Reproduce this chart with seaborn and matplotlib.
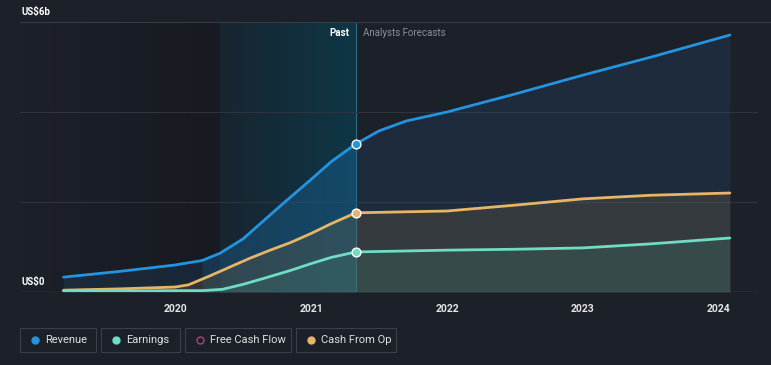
import numpy as np
import pandas as pd
import matplotlib.pyplot as plt
from matplotlib.colors import LinearSegmentedColormap
import seaborn as sns

# values (US$ billions)
rev_x = [2019.18, 2019.6, 2020.0, 2020.2, 2020.33, 2020.5, 2020.65, 2020.8, 2021.0, 2021.15, 2021.33,
         2021.5, 2021.7, 2022.0, 2022.5, 2023.0, 2023.5, 2024.08]
rev_y = [0.33, 0.46, 0.6, 0.7, 0.86, 1.18, 1.58, 1.98, 2.5, 2.9, 3.29,
         3.58, 3.8, 4.0, 4.4, 4.82, 5.22, 5.71]
earn_x = [2019.18, 2019.6, 2020.0, 2020.2, 2020.35, 2020.5, 2020.65, 2020.85, 2021.0, 2021.15, 2021.33,
          2022.0, 2022.5, 2023.0, 2023.5, 2024.08]
earn_y = [0.02, 0.02, 0.03, 0.03, 0.06, 0.17, 0.3, 0.48, 0.63, 0.77, 0.89,
          0.93, 0.95, 0.98, 1.07, 1.2]
cfo_x = [2019.18, 2019.6, 2020.0, 2020.1, 2020.25, 2020.4, 2020.55, 2020.7, 2020.85, 2021.0, 2021.15, 2021.33,
         2022.0, 2022.5, 2023.0, 2023.5, 2024.08]
cfo_y = [0.04, 0.07, 0.11, 0.16, 0.35, 0.55, 0.75, 0.93, 1.1, 1.3, 1.52, 1.76,
         1.8, 1.93, 2.07, 2.15, 2.2]
years = [2020, 2021, 2022, 2023, 2024]
past_end = 2021.33
past_start = 2020.33

bg = "#1c2029"
c_rev = "#2394df"
c_earn = "#6fdcc4"
c_cfo = "#e6b567"
c_fcf = "#b0417a"

sns.set_style("dark")
plt.rcParams["font.family"] = ["Roboto", "DejaVu Sans"]

fig = plt.figure(figsize=(7.71, 3.65), dpi=100, facecolor=bg)
ax = fig.add_axes([20 / 771, 1 - 292 / 365, 738 / 771, 270 / 365])
ax.set_facecolor(bg)
ax.set_xlim(2018.86, 2024.287)
ax.set_ylim(0, 6)

# horizontal gradients: dark left zone and teal past zone
hgrad = np.linspace(0, 1, 200).reshape(1, -1)
ax.imshow(hgrad, extent=[2018.86, past_start, 0, 6], aspect="auto", zorder=0.4,
          cmap=LinearSegmentedColormap.from_list("l", [bg, "#171a21"]))
ax.imshow(hgrad, extent=[past_start, past_end, 0, 6], aspect="auto", zorder=0.5,
          cmap=LinearSegmentedColormap.from_list("p", ["#172530", "#0f3646"]))
ax.axvline(past_end, color="#2b6a80", lw=0.8, zorder=1)

for yv in [2, 4]:
    ax.axhline(yv, color="#2e333d", lw=0.8, zorder=1)
ax.plot([2018.86, 2024.5], [6, 6], color="#363b45", lw=0.8, clip_on=False, zorder=1)
ax.axhline(0, color="#4a4f58", lw=1, zorder=2)

df_rev = pd.DataFrame({"x": rev_x, "y": rev_y})
df_earn = pd.DataFrame({"x": earn_x, "y": earn_y})
df_cfo = pd.DataFrame({"x": cfo_x, "y": cfo_y})

rx = np.array(rev_x)
ax.fill_between(rev_x, rev_y, color="#2a6fb0", alpha=0.15, lw=0, zorder=2)
ax.fill_between(rev_x, rev_y, where=(rx >= past_start - 0.2) & (rx <= past_end), interpolate=False,
                color="#1a80c0", alpha=0.18, lw=0, zorder=2.05)
ax.fill_between(cfo_x, cfo_y, color="#7d6741", alpha=0.25, lw=0, zorder=2.1)
ax.fill_between(earn_x, earn_y, color="#3d7a6e", alpha=0.25, lw=0, zorder=2.2)

for d, c in [(df_rev, c_rev), (df_cfo, c_cfo), (df_earn, c_earn)]:
    sns.lineplot(data=d, x="x", y="y", color=c, lw=2, ax=ax, zorder=3)
    yp = np.interp(past_end, d["x"], d["y"])
    ax.scatter([past_end], [yp], s=40, color=c, edgecolor="white", lw=1, zorder=4)

ax.set_xlabel("")
ax.set_ylabel("")
ax.set_xticks(years)
ax.set_xticklabels([str(y) for y in years], color="#e6e6e6", fontsize=7.5, fontweight="bold")
ax.tick_params(axis="x", length=3, color="#4a4f58", pad=6)
ax.set_yticks([])
for s in ax.spines.values():
    s.set_visible(False)
ax.grid(False)

ax.text(2018.87, 6.12, "US$6b", color="white", fontsize=7, fontweight="bold", va="bottom")
ax.text(2018.87, 0.1, "US$0", color="white", fontsize=7, fontweight="bold", va="bottom")
ax.text(past_end - 0.05, 5.75, "Past", color="white", fontsize=7, fontweight="bold", ha="right", va="center")
ax.text(past_end + 0.05, 5.75, "Analysts Forecasts", color="#8a8f98", fontsize=7, ha="left", va="center")

# legend boxes
items = [("Revenue", c_rev, True, 20, 96), ("Earnings", c_earn, True, 101, 180),
         ("Free Cash Flow", c_fcf, False, 185, 291), ("Cash From Op", c_cfo, True, 296, 396)]
for label, c, filled, x0, x1 in items:
    y0, y1 = 328, 352
    fig.patches.append(plt.Rectangle((x0 / 771, 1 - y1 / 365), (x1 - x0) / 771, (y1 - y0) / 365,
                                     transform=fig.transFigure, fill=False, edgecolor="#3a3f49", lw=0.8))
    fig.lines.append(plt.Line2D([(x0 + 15) / 771], [1 - 340 / 365], marker="o", ms=5,
                                color=c, mfc=c if filled else "none", mew=1, transform=fig.transFigure))
    fig.text((x0 + 25) / 771, 1 - 340 / 365, label, color="#e0e0e0", fontsize=8, va="center")

fig.savefig("out.png", dpi=100, facecolor=bg)
